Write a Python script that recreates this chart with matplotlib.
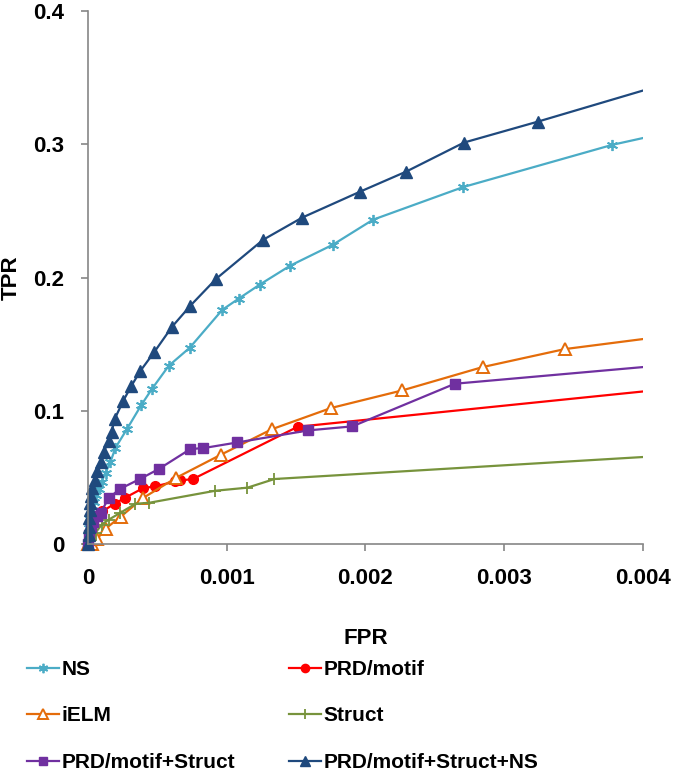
import matplotlib
matplotlib.use('Agg')
import matplotlib.pyplot as plt
from matplotlib.patches import Rectangle
from matplotlib.ticker import FuncFormatter

plt.rcParams['font.family'] = ['Liberation Sans', 'DejaVu Sans']
plt.rcParams['font.weight'] = 'bold'

# FPR / TPR (last point lies past the 0.004 limit, as in the source)
ns_fpr = [0, 0.000005, 0.000009, 0.000016, 0.000027, 0.000041, 0.000059, 0.000079,
          0.000099, 0.000127, 0.000163, 0.000199, 0.000283, 0.000386, 0.000463,
          0.000583, 0.000734, 0.000969, 0.001086, 0.001237, 0.001458, 0.001765,
          0.002055, 0.002705, 0.00378, 0.0045]
ns_tpr = [0, 0.006, 0.012, 0.019, 0.0258, 0.0318, 0.037, 0.0415, 0.0468, 0.0535,
          0.0617, 0.0723, 0.0865, 0.1045, 0.1166, 0.1338, 0.1473, 0.1758, 0.1841,
          0.1946, 0.2089, 0.2246, 0.2434, 0.2679, 0.2996, 0.3162]

prd_fpr = [0, 0.000012, 0.000034, 0.000068, 0.000104, 0.000192, 0.000264, 0.000399,
           0.000483, 0.000631, 0.000667, 0.000758, 0.001512, 0.0045]
prd_tpr = [0, 0.0092, 0.0167, 0.0207, 0.0245, 0.0302, 0.0345, 0.042, 0.0432, 0.047,
           0.0477, 0.0488, 0.088, 0.1198]

ielm_fpr = [0, 0.00003, 0.000068, 0.000127, 0.000236, 0.0004, 0.000638, 0.000958,
            0.001327, 0.001753, 0.002266, 0.002845, 0.003437, 0.0045]
ielm_tpr = [0, 0.0002, 0.004, 0.0115, 0.0205, 0.0347, 0.0498, 0.067, 0.0862, 0.1021,
            0.1153, 0.1328, 0.1463, 0.1605]

struct_fpr = [0, 0.00002, 0.000055, 0.000099, 0.000149, 0.000235, 0.000343, 0.000444,
              0.000919, 0.00115, 0.001345, 0.0045]
struct_tpr = [0, 0.003, 0.0085, 0.0145, 0.0182, 0.0235, 0.0302, 0.031, 0.040, 0.0423,
              0.0488, 0.0684]

ps_fpr = [0, 0.000009, 0.00002, 0.000034, 0.000068, 0.000091, 0.000151, 0.00023,
          0.000379, 0.000511, 0.000739, 0.000833, 0.001075, 0.00159, 0.001906,
          0.002645, 0.0045]
ps_tpr = [0, 0.007, 0.013, 0.0167, 0.0207, 0.0235, 0.0345, 0.0413, 0.049, 0.0563,
          0.0713, 0.072, 0.0762, 0.0853, 0.0883, 0.1203, 0.1374]

psn_fpr = [0, 0.000005, 0.000007, 0.000009, 0.000012, 0.000016, 0.000023, 0.000032,
           0.000048, 0.000068, 0.000091, 0.000115, 0.000151, 0.000171, 0.000194,
           0.000255, 0.000314, 0.000379, 0.00048, 0.000607, 0.000739, 0.000926,
           0.001264, 0.001545, 0.001963, 0.002294, 0.002711, 0.003243, 0.0045]
psn_tpr = [0, 0.007, 0.013, 0.0198, 0.0258, 0.031, 0.0363, 0.0423, 0.0483, 0.055,
           0.0618, 0.0693, 0.0776, 0.0843, 0.094, 0.1075, 0.1188, 0.130, 0.1443,
           0.1631, 0.1789, 0.1992, 0.2284, 0.245, 0.2645, 0.2795, 0.3013, 0.317,
           0.3557]

fig = plt.figure(figsize=(6.76, 7.72), dpi=100)
ax = fig.add_axes([0.130, 0.2953, 0.821, 0.6904])

clip = Rectangle((-0.03, -0.03), 1.03, 1.06, transform=ax.transAxes)


def draw(x, y, color, marker, ms, label, mfc=None, mew=1.0):
    line, = ax.plot(x, y, color=color, lw=1.6, marker=marker, ms=ms,
                    mfc=color if mfc is None else mfc, mec=color, mew=mew,
                    label=label)
    line.set_clip_path(clip)
    return line


h_ns = draw(ns_fpr, ns_tpr, '#4BACC6', (6, 2, 0), 8, 'NS', mew=1.3)
h_prd = draw(prd_fpr, prd_tpr, '#FF0000', 'o', 7, 'PRD/motif')
h_ielm = draw(ielm_fpr, ielm_tpr, '#E46C0A', '^', 8, 'iELM', mfc='white', mew=1.4)
h_str = draw(struct_fpr, struct_tpr, '#77933C', '+', 8, 'Struct', mew=1.3)
h_ps = draw(ps_fpr, ps_tpr, '#7030A0', 's', 7, 'PRD/motif+Struct')
h_psn = draw(psn_fpr, psn_tpr, '#1F497D', '^', 8.5, 'PRD/motif+Struct+NS')

ax.set_xlim(0, 0.004)
ax.set_ylim(0, 0.4)
ax.set_xticks([0, 0.001, 0.002, 0.003, 0.004])
ax.set_yticks([0, 0.1, 0.2, 0.3, 0.4])
fmt = FuncFormatter(lambda v, p: '%g' % round(v, 6))
ax.xaxis.set_major_formatter(fmt)
ax.yaxis.set_major_formatter(fmt)

for s in ['top', 'right']:
    ax.spines[s].set_visible(False)
for s in ['left', 'bottom']:
    ax.spines[s].set_color('#868686')
    ax.spines[s].set_linewidth(1.2)
ax.tick_params(direction='out', length=5, width=1.2, color='#868686',
               labelsize=16, pad=12)
for lab in ax.get_xticklabels() + ax.get_yticklabels():
    lab.set_fontweight('bold')

ax.set_xlabel('FPR', fontsize=16, fontweight='bold', labelpad=28)
ax.set_ylabel('TPR', fontsize=16, fontweight='bold', labelpad=8)

handles = [h_ns, h_ielm, h_ps, h_prd, h_str, h_psn]
fig.legend(handles, [h.get_label() for h in handles], ncol=2,
           loc='upper left', bbox_to_anchor=(0.028, 0.156),
           frameon=False, prop={'size': 15, 'weight': 'bold'},
           handlelength=1.5, handletextpad=0.15, labelspacing=1.32,
           columnspacing=2.6, markerscale=0.85, borderaxespad=0)

fig.savefig('out.png', dpi=100)
